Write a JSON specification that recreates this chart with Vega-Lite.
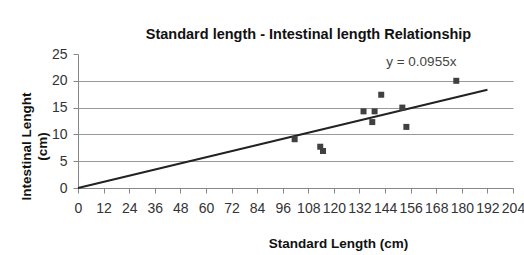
{
  "$schema": "https://vega.github.io/schema/vega-lite/v6.json",
  "width": 435,
  "height": 134,
  "autosize": "none",
  "padding": {"left": 78, "top": 54, "right": 11, "bottom": 67},
  "background": "white",
  "title": {
    "text": "Standard length - Intestinal length Relationship",
    "font": "Liberation Sans",
    "fontSize": 14.5,
    "fontWeight": "bold",
    "color": "#111",
    "anchor": "middle",
    "dx": 13,
    "offset": 5
  },
  "config": {
    "view": {"stroke": null},
    "axis": {
      "labelFont": "Liberation Sans",
      "labelFontSize": 14,
      "labelColor": "#333",
      "titleFont": "Liberation Sans",
      "titleFontSize": 13.5,
      "titleFontWeight": "bold",
      "titleColor": "#111",
      "domainColor": "#888",
      "tickColor": "#888",
      "gridColor": "#999",
      "tickSize": 5
    }
  },
  "encoding": {
    "x": {
      "field": "sl", "type": "quantitative",
      "scale": {"domain": [0, 204], "nice": false, "zero": true},
      "axis": {
        "values": [0,12,24,36,48,60,72,84,96,108,120,132,144,156,168,180,192,204],
        "grid": false,
        "labelOverlap": false,
        "labelFlush": false,
        "labelPadding": 8,
        "title": "Standard Length (cm)",
        "titleX": 260,
        "titleY": 48,
        "titleAlign": "center"
      }
    },
    "y": {
      "field": "il", "type": "quantitative",
      "scale": {"domain": [0, 25], "nice": false},
      "axis": {
        "values": [0,5,10,15,20,25],
        "grid": true,
        "labelOverlap": false,
        "gridOpacity": {"condition": {"test": "datum.value == 25", "value": 0}, "value": 1},
        "labelPadding": 6,
        "title": ["Intestinal Lenght", "(cm)"],
        "titleX": -52,
        "titleY": 92,
        "titleAngle": -90,
        "titleAlign": "center",
        "titleBaseline": "middle",
        "titleLineHeight": 16
      }
    }
  },
  "layer": [
    {
      "data": {"values": [
        {"sl": 0, "il": 0},
        {"sl": 192, "il": 18.34}
      ]},
      "mark": {"type": "line", "color": "#222", "strokeWidth": 2}
    },
    {
      "data": {"values": [
        {"sl": 177.4, "il": 20.0},
        {"sl": 142.2, "il": 17.4},
        {"sl": 133.9, "il": 14.3},
        {"sl": 139.1, "il": 14.3},
        {"sl": 138.0, "il": 12.3},
        {"sl": 152.1, "il": 15.0},
        {"sl": 154.0, "il": 11.4},
        {"sl": 101.6, "il": 9.1},
        {"sl": 113.6, "il": 7.7},
        {"sl": 114.9, "il": 6.9}
      ]},
      "mark": {"type": "square", "color": "#404040", "opacity": 1, "size": 36}
    },
    {
      "data": {"values": [{"sl": 161, "il": 23.6, "label": "y = 0.0955x"}]},
      "mark": {"type": "text", "font": "Liberation Sans", "fontSize": 13.5, "color": "#444"},
      "encoding": {
        "text": {"field": "label"}
      }
    }
  ]
}
